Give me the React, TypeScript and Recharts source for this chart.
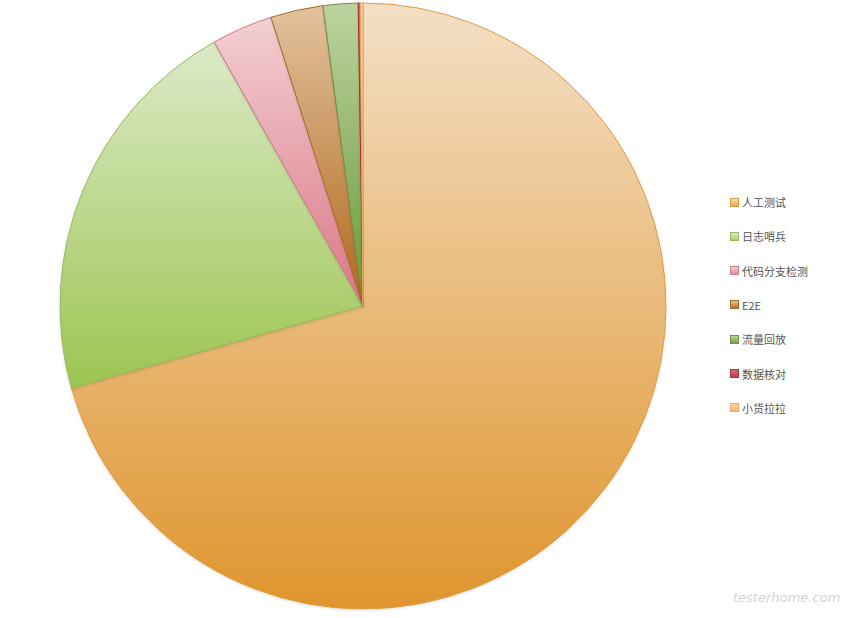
import { PieChart, Pie, Cell } from 'recharts';

const categories = ['人工测试', '日志哨兵', '代码分支检测', 'E2E', '流量回放', '数据核对', '小货拉拉'];
const values = [70.6, 21.2, 3.26, 2.8, 1.86, 0.1, 0.15];

// top / bottom gradient stops, stroke, legend marker
const topColors = ['#f4dfc6', '#dceac8', '#f2d0d3', '#e2c29e', '#bcd3a0', '#d06a72', '#f6d3a8'];
const bottomColors = ['#df952e', '#9cc552', '#dc7686', '#b0681c', '#6c9838', '#b83040', '#eeb060'];
const strokeColors = ['#e09a40', '#96b860', '#d07a86', '#a86a28', '#6e9440', '#b03040', '#e8a860'];
const markerColors = ['#e9a552', '#aacf6c', '#e08a98', '#b8752e', '#7aa448', '#c0404c', '#f0bb74'];

const data = categories.map((name, i) => ({ name, value: values[i] }));

function Legend() {
  return (
    <div style={{ position: 'absolute', left: 730, top: 195 }}>
      {categories.map((c, i) => (
        <div
          key={c}
          style={{
            position: 'absolute',
            top: i * 34.3,
            left: 0,
            display: 'flex',
            alignItems: 'center',
            whiteSpace: 'nowrap',
            fontFamily: '"Noto Sans CJK SC", "Liberation Sans", sans-serif',
            fontSize: 11,
            color: '#555',
            height: 14,
          }}
        >
          <span
            style={{
              display: 'inline-block',
              width: 7,
              height: 7,
              marginRight: 3,
              border: `1px solid ${strokeColors[i]}`,
              background: `linear-gradient(${topColors[i]}, ${markerColors[i]})`,
            }}
          />
          {c}
        </div>
      ))}
    </div>
  );
}

export default function App() {
  return (
    <div style={{ position: 'absolute', left: 0, top: 0, width: 848, height: 618, background: '#fff' }}>
      <PieChart width={848} height={618} margin={{ top: 0, right: 0, bottom: 0, left: 0 }}>
        <defs>
          {categories.map((_, i) => (
            <linearGradient key={i} id={`g${i}`} x1="0" y1="0" x2="0" y2="1">
              <stop offset="0%" stopColor={topColors[i]} />
              <stop offset="100%" stopColor={bottomColors[i]} />
            </linearGradient>
          ))}
          <filter id="shadow" x="-10%" y="-10%" width="120%" height="120%">
            <feDropShadow dx="0" dy="1" stdDeviation="1.5" floodColor="#000" floodOpacity="0.12" />
          </filter>
        </defs>
        <Pie
          data={data}
          dataKey="value"
          nameKey="name"
          cx={363}
          cy={306}
          outerRadius={303}
          startAngle={90}
          endAngle={-270}
          stroke="none"
          isAnimationActive={false}
          style={{ filter: 'url(#shadow)' }}
        >
          {data.map((_, i) => (
            <Cell key={`cell-${i}`} fill={`url(#g${i})`} stroke={strokeColors[i]} strokeWidth={1} />
          ))}
        </Pie>
      </PieChart>
      <Legend />
      <div
        style={{
          position: 'absolute',
          left: 733,
          top: 590,
          fontFamily: '"DejaVu Sans", sans-serif',
          fontStyle: 'italic',
          fontSize: 13,
          color: '#d4d4d4',
          whiteSpace: 'nowrap',
        }}
      >
        testerhome.com
      </div>
    </div>
  );
}
